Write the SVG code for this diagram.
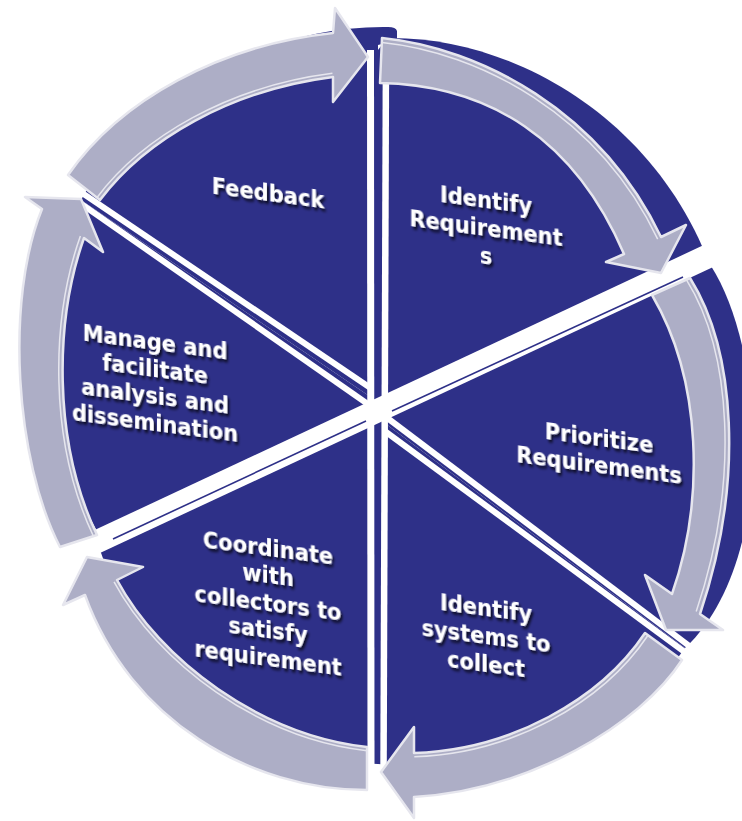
<svg xmlns="http://www.w3.org/2000/svg" width="742" height="821" viewBox="0 0 742 821">
<defs>
<style>
.slice{fill:#2E3088}
.gap{stroke:#FFFFFF;fill:none;stroke-linecap:butt}
.band{fill:#FFFFFF}
.edge{stroke:#2E3088;stroke-width:1.6;fill:none}
.arrow{fill:#ADAEC6;stroke:#E6E6EE;stroke-width:2.5;stroke-linejoin:round}
.hl{fill:none;stroke:#E6E6EE;stroke-width:1.5}
.lbl{font-family:"DejaVu Sans","Liberation Sans",sans-serif;font-weight:bold;font-size:21px;fill:#FFFFFF;text-anchor:middle}
</style>
<filter id="sh" x="-15%" y="-30%" width="140%" height="170%">
<feDropShadow dx="2" dy="2.5" stdDeviation="1.2" flood-color="#000000" flood-opacity="0.75"/>
</filter>
</defs>
<rect width="742" height="821" fill="#FFFFFF"/>

<g id="node-feedback">
<path class="slice" d="M 378,402 L 378,45 L 397,40 L 397,31 Q 396,27 388,27 C 250,25 130,110 81,200 Z"/>
<text class="lbl" filter="url(#sh)" transform="translate(268,201) skewY(7.5) scale(1,1.12)"><tspan x="0" y="0">Feedback</tspan></text>
</g>
<g id="node-identify-requirements">
<path class="slice" d="M 378,405 L 378,50 L 387,38 C 510,36 650,115 707,258 Z"/>
<text class="lbl" filter="url(#sh)" transform="translate(486,208) skewY(7.5) scale(1,1.12)"><tspan x="0" y="0">Identify</tspan><tspan x="0" y="25">Requirement</tspan><tspan x="0" y="50">s</tspan></text>
</g>
<g id="node-prioritize-requirements">
<path class="slice" d="M 378,418 L 711,266 C 765,350 778,560 685,648 Z"/>
<text class="lbl" filter="url(#sh)" transform="translate(599,446) skewY(7.5) scale(1,1.12)"><tspan x="0" y="0">Prioritize</tspan><tspan x="0" y="24.1">Requirements</tspan></text>
</g>
<g id="node-identify-systems">
<path class="slice" d="M 378,418 L 685,648 C 625,735 500,775 378,764 Z"/>
<text class="lbl" filter="url(#sh)" transform="translate(486,616) skewY(7.5) scale(1,1.12)"><tspan x="0" y="0">Identify</tspan><tspan x="0" y="25">systems to</tspan><tspan x="0" y="50">collect</tspan></text>
</g>
<g id="node-coordinate">
<path class="slice" d="M 378,420 L 378,764 C 260,762 150,700 100,550 Z"/>
<text class="lbl" filter="url(#sh)" transform="translate(268,556) skewY(7.5) scale(1,1.12)"><tspan x="0" y="0">Coordinate</tspan><tspan x="0" y="24.55">with</tspan><tspan x="0" y="49.1">collectors to</tspan><tspan x="0" y="73.65">satisfy</tspan><tspan x="0" y="98.2">requirement</tspan></text>
</g>
<g id="node-manage">
<path class="slice" d="M 378,402 L 81,200 C 40,300 45,440 97,531 Z"/>
<text class="lbl" filter="url(#sh)" transform="translate(155,350) skewY(7.5) scale(1,1.12)"><tspan x="0" y="0">Manage and</tspan><tspan x="0" y="24.1">facilitate</tspan><tspan x="0" y="48.2">analysis and</tspan><tspan x="0" y="72.3">dissemination</tspan></text>
</g>

<g id="separators">
<path class="band" d="M 70,541.6 L 740,228.1 L 740,254.4 L 70,567 Z"/>
<line class="edge" x1="113" y1="539" x2="366" y2="421"/>
<line class="edge" x1="392" y1="411" x2="683" y2="277"/>
<line class="gap" x1="370.5" y1="50" x2="371" y2="780" stroke-width="7"/>
<line class="gap" x1="386" y1="45" x2="383.5" y2="780" stroke-width="6.5"/>
<line class="gap" x1="70" y1="184.8" x2="372" y2="389" stroke-width="6"/>
<line class="gap" x1="66" y1="193.2" x2="372" y2="407" stroke-width="6"/>
<line class="gap" x1="384" y1="415.5" x2="705" y2="657.8" stroke-width="6"/>
<line class="gap" x1="384" y1="430.5" x2="705" y2="667" stroke-width="6"/>
</g>

<g id="connectors">
<path class="arrow" d="M 68,175 C 120,100 220,45 333,33 L 335,8 L 368,57 L 333,102 L 333,77 C 230,90 145,140 100,200 Z"/>
<path class="hl" d="M 100,200 C 145,140 230,90 333,77" transform="translate(385 410) scale(1.011) translate(-385 -410)"/>
<path class="arrow" d="M 382,38 C 480,48 600,110 661,237 L 686,225 L 661,273 L 606,262 L 624,254 C 575,140 490,85 380,83 Z"/>
<path class="hl" d="M 382,38 C 480,48 600,110 661,237" transform="translate(385 410) scale(0.988) translate(-385 -410)"/>
<path class="arrow" d="M 690,278 C 735,350 745,480 700,614 L 723,630 L 666,630 L 645,575 L 672,594 C 705,500 702,380 652,295 Z"/>
<path class="hl" d="M 690,278 C 735,350 745,480 700,614" transform="translate(385 410) scale(0.988) translate(-385 -410)"/>
<path class="arrow" d="M 682,660 C 640,725 530,790 414,797 L 414,818 L 381,772 L 414,727 L 414,753 C 510,750 600,700 645,633 Z"/>
<path class="hl" d="M 645,633 C 600,700 510,750 414,753" transform="translate(385 410) scale(1.011) translate(-385 -410)"/>
<path class="arrow" d="M 367,790 C 250,790 130,720 85,595 L 63,605 L 87,557 L 143,567 L 117,580 C 160,660 260,735 367,747 Z"/>
<path class="hl" d="M 117,580 C 160,660 260,735 367,747" transform="translate(385 410) scale(1.011) translate(-385 -410)"/>
<path class="arrow" d="M 60,547 C 15,460 5,300 42,209 L 25,197 L 81,199 L 103,252 L 84,238 C 55,320 52,440 97,535 Z"/>
<path class="hl" d="M 84,238 C 55,320 52,440 97,535" transform="translate(385 410) scale(1.012) translate(-385 -410)"/>
</g>
</svg>
